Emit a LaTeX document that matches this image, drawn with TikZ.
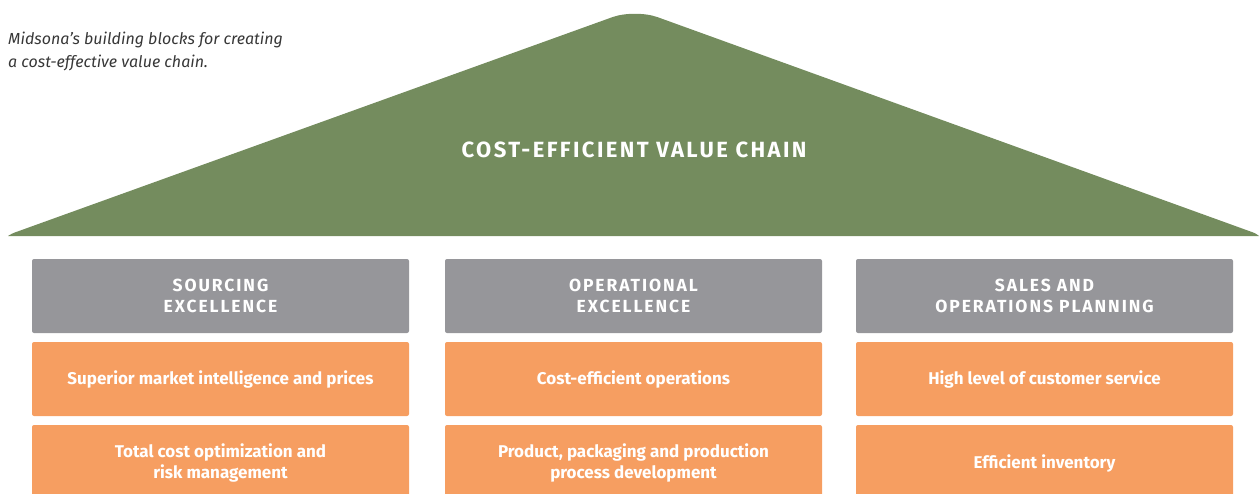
\documentclass[tikz,border=0pt]{standalone}
\usepackage{fontspec}
\setmainfont{Fira Sans}
\usepackage{tikz}
\usetikzlibrary{positioning}

\definecolor{roofgreen}{RGB}{116,140,94}
\definecolor{pillargray}{RGB}{150,150,154}
\definecolor{blockorange}{RGB}{246,158,97}
\definecolor{captiongray}{RGB}{55,55,55}

\newcommand{\spaced}[1]{{\addfontfeatures{LetterSpace=11}#1}}

\begin{document}
\begin{tikzpicture}[x=1pt, y=-1pt,
  pillar/.style={fill=pillargray, rounded corners=2pt, minimum width=377pt, minimum height=74pt,
    text=white, font=\fontsize{17.5}{21}\selectfont\bfseries, align=center, inner sep=0pt},
  block/.style={fill=blockorange, rounded corners=2pt, minimum width=377pt, minimum height=74pt,
    text=white, font=\fontsize{17}{21}\selectfont\bfseries, align=center, inner sep=0pt}]

\useasboundingbox (0,0) rectangle (1260,493);

% roof
\fill[roofgreen] (8,236) [rounded corners=3pt] -- (12,233.5) [rounded corners=24pt] -- (635,9)
  [rounded corners=3pt] -- (1256,233.5) [sharp corners] -- (1259,236) -- cycle;
\node[text=white, font=\fontsize{22}{25}\selectfont\bfseries] (roof) at (634,150) {\spaced{COST-EFFICIENT VALUE CHAIN}};

\node[anchor=west, align=left, text=captiongray, font=\fontsize{16}{23}\selectfont\itshape, inner sep=0pt] (caption) at (8,51)
  {Midsona’s building blocks for creating\\a cost-effective value chain.};

% pillars
\node[pillar] (sourcing) at (220.5,296) {\spaced{SOURCING}\\\spaced{EXCELLENCE}};
\node[pillar] (operational) at (633.5,296) {\spaced{OPERATIONAL}\\\spaced{EXCELLENCE}};
\node[pillar] (sop) at (1044.5,296) {\spaced{SALES AND}\\\spaced{OPERATIONS PLANNING}};

% blocks
\node[block] (market) at (220.5,379) {Superior market intelligence and prices};
\node[block] (costops) at (633.5,379) {Cost-efficient operations};
\node[block] (service) at (1044.5,379) {High level of customer service};

\node[block, minimum height=76pt] (risk) at (220.5,463) {Total cost optimization and\\risk management};
\node[block, minimum height=76pt] (process) at (633.5,463) {Product, packaging and production\\process development};
\node[block, minimum height=76pt] (inventory) at (1044.5,463) {Efficient inventory};
\end{tikzpicture}
\end{document}
